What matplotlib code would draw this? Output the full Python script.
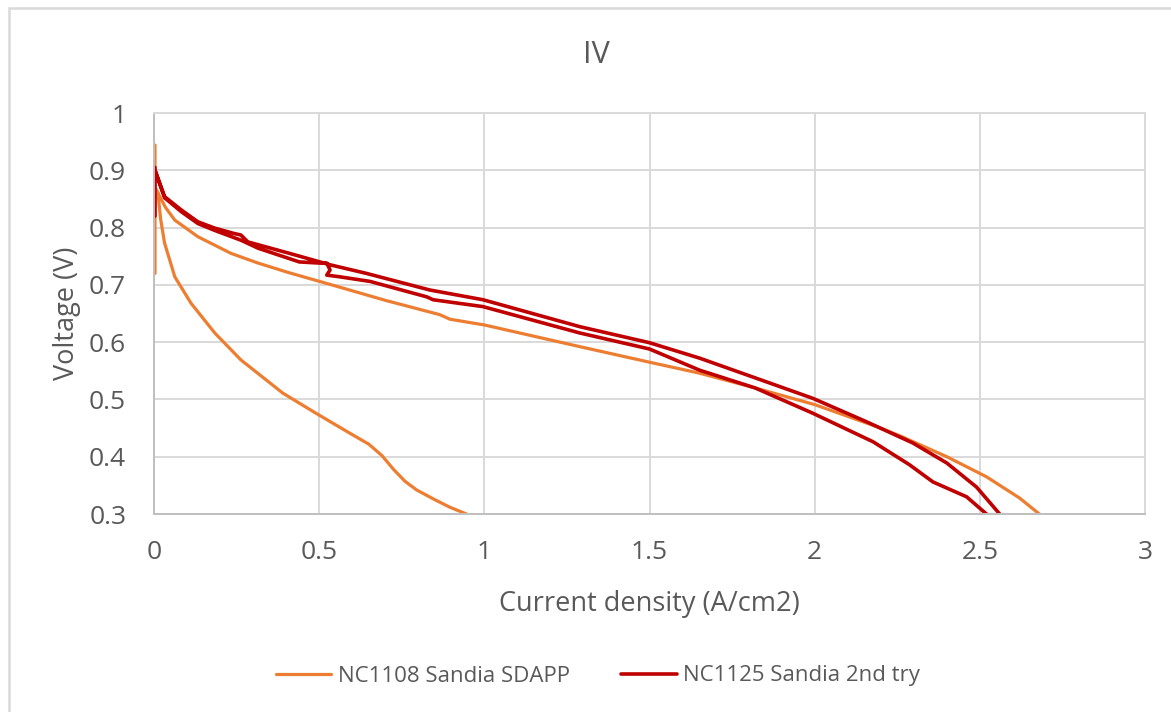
import matplotlib
matplotlib.use("Agg")
import matplotlib.pyplot as plt
import numpy as np
from matplotlib.patches import Rectangle

plt.rcParams['font.family'] = ['Open Sans', 'DejaVu Sans']

# NC1108 Sandia SDAPP: OCV hold, upper sweep, lower sweep
nc1108_ocv_x = [0.003, 0.003]
nc1108_ocv_y = [0.72, 0.944]
nc1108_up_x = [0.003, 0.012, 0.035, 0.063, 0.133, 0.233, 0.315, 0.41, 0.55, 0.70,
               0.865, 0.896, 1.0, 1.29, 1.5, 1.65, 1.82, 2.0, 2.19, 2.26, 2.40,
               2.52, 2.62, 2.68]
nc1108_up_y = [0.87, 0.86, 0.835, 0.813, 0.784, 0.755, 0.738, 0.721, 0.698, 0.673,
               0.648, 0.640, 0.630, 0.592, 0.565, 0.546, 0.52, 0.491, 0.452, 0.436,
               0.400, 0.365, 0.328, 0.30]
nc1108_dn_x = [0.003, 0.012, 0.02, 0.032, 0.063, 0.112, 0.184, 0.263, 0.39, 0.49,
               0.593, 0.65, 0.69, 0.725, 0.76, 0.795, 0.85, 0.895, 0.946]
nc1108_dn_y = [0.87, 0.86, 0.815, 0.773, 0.714, 0.668, 0.616, 0.569, 0.511, 0.476,
               0.441, 0.422, 0.402, 0.378, 0.357, 0.342, 0.325, 0.312, 0.30]

# NC1125 Sandia 2nd try
nc1125_ocv_x = [0.003, 0.003]
nc1125_ocv_y = [0.82, 0.905]
nc1125_up_x = [0.003, 0.032, 0.082, 0.133, 0.184, 0.24, 0.263, 0.284, 0.41, 0.533,
               0.643, 0.835, 0.996, 1.289, 1.5, 1.652, 1.994, 2.157, 2.297, 2.40,
               2.49, 2.56]
nc1125_up_y = [0.90, 0.854, 0.831, 0.81, 0.799, 0.79, 0.787, 0.775, 0.755, 0.735,
               0.72, 0.691, 0.674, 0.627, 0.599, 0.572, 0.502, 0.461, 0.424, 0.389,
               0.347, 0.30]
nc1125_dn_x = [0.003, 0.032, 0.082, 0.133, 0.184, 0.263, 0.315, 0.44, 0.502, 0.523,
               0.533, 0.523, 0.563, 0.654, 0.826, 0.845, 0.996, 1.289, 1.5, 1.652,
               1.82, 1.994, 2.177, 2.287, 2.358, 2.46, 2.52]
nc1125_dn_y = [0.90, 0.852, 0.828, 0.807, 0.795, 0.778, 0.764, 0.74, 0.738, 0.738,
               0.726, 0.717, 0.714, 0.706, 0.679, 0.674, 0.662, 0.616, 0.588, 0.551,
               0.52, 0.476, 0.426, 0.386, 0.356, 0.330, 0.30]

x_ticks = [0, 0.5, 1, 1.5, 2, 2.5, 3]
y_ticks = [0.3, 0.4, 0.5, 0.6, 0.7, 0.8, 0.9, 1]


def join(*parts):
    # glue separate sweeps into one line with gaps between them
    xs, ys = [], []
    for px, py in parts:
        if xs:
            xs.append(np.nan)
            ys.append(np.nan)
        xs.extend(px)
        ys.extend(py)
    return xs, ys


text_col = '#595959'
grid_col = '#D9D9D9'

fig = plt.figure(figsize=(11.71, 7.12), dpi=100)
ax = fig.add_axes([154 / 1171, 1 - 514 / 712, (1145 - 154) / 1171, (514 - 113) / 712])

# outer chart border
fig.patches.append(Rectangle((9 / 1171, -0.5), 2, 1.5 - 8 / 712, transform=fig.transFigure,
                             fill=False, edgecolor=grid_col, linewidth=1.8))

ox, oy = join((nc1108_ocv_x, nc1108_ocv_y), (nc1108_up_x, nc1108_up_y), (nc1108_dn_x, nc1108_dn_y))
rx, ry = join((nc1125_ocv_x, nc1125_ocv_y), (nc1125_up_x, nc1125_up_y), (nc1125_dn_x, nc1125_dn_y))
ax.plot(ox, oy, color='#ED7D31', linewidth=2.3, label='NC1108 Sandia SDAPP',
        solid_joinstyle='round', solid_capstyle='round')
ax.plot(rx, ry, color='#C00000', linewidth=2.6, label='NC1125 Sandia 2nd try',
        solid_joinstyle='round', solid_capstyle='round')

ax.set_xlim(0, 3)
ax.set_ylim(0.3, 1)
ax.set_xticks(x_ticks)
ax.set_yticks(y_ticks)
ax.set_xticklabels(['0', '0.5', '1', '1.5', '2', '2.5', '3'])
ax.set_yticklabels(['0.3', '0.4', '0.5', '0.6', '0.7', '0.8', '0.9', '1'])
ax.tick_params(length=0, labelsize=19, labelcolor=text_col)
ax.tick_params(axis='x', pad=19)
ax.tick_params(axis='y', pad=20)
ax.grid(True, color=grid_col, linewidth=1.4)
ax.set_axisbelow(True)
for side in ['top', 'right']:
    ax.spines[side].set_color(grid_col)
    ax.spines[side].set_linewidth(1.4)
for side in ['left', 'bottom']:
    ax.spines[side].set_color('#BFBFBF')
    ax.spines[side].set_linewidth(1.4)

ax.set_xlabel('Current density (A/cm2)', fontsize=19.5, color=text_col, labelpad=18)
ax.set_ylabel('Voltage (V)', fontsize=19.5, color=text_col, labelpad=6)
fig.text(596 / 1171, 1 - 55 / 712, 'IV', fontsize=22, color=text_col, ha='center', va='center')

fig.legend(loc='center', bbox_to_anchor=(598 / 1171, 1 - 676 / 712), ncol=2, frameon=False,
           fontsize=16, handlelength=2.5, columnspacing=2.3, handletextpad=0.3,
           labelcolor=text_col)

fig.savefig('out.png', dpi=100)
